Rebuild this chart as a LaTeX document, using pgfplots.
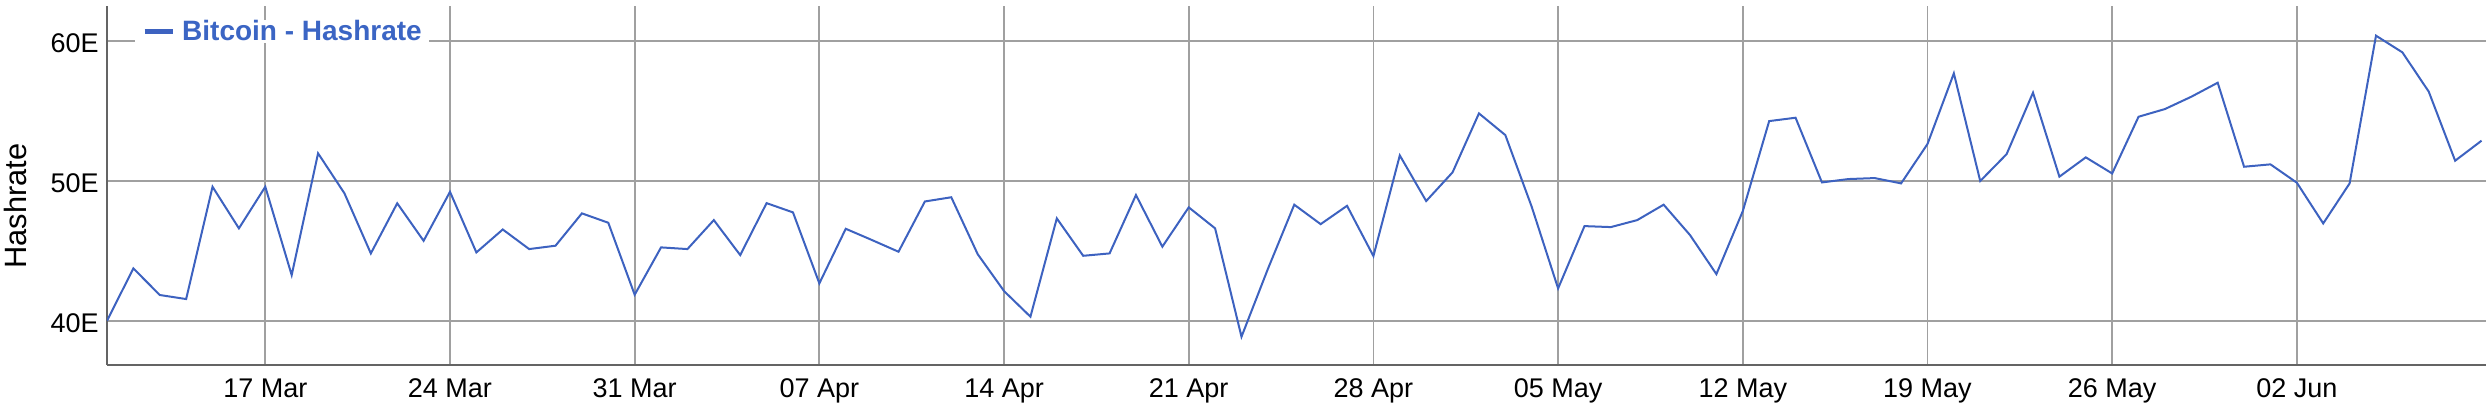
\documentclass[border=0pt]{standalone}
\usepackage{fontspec}
\setmainfont{Liberation Sans}
\usepackage{pgfplots}
\usepackage{pgfplotstable}
\pgfplotsset{compat=1.18}
\usetikzlibrary{calc}

\definecolor{lineblue}{RGB}{61,98,192}
\definecolor{legblue}{RGB}{59,101,196}
\definecolor{gridgray}{RGB}{160,160,160}
\definecolor{axisgray}{RGB}{100,100,100}

% day 0 = 11 Mar, one value per day
\pgfplotstableread{
day hash
0 40.00
1 43.74
2 41.84
3 41.55
4 49.57
5 46.60
6 49.57
7 43.26
8 51.96
9 49.10
10 44.81
11 48.39
12 45.71
13 49.21
14 44.88
15 46.52
16 45.12
17 45.36
18 47.67
19 47.00
20 41.86
21 45.24
22 45.12
23 47.19
24 44.69
25 48.40
26 47.74
27 42.67
28 46.57
29 45.76
30 44.93
31 48.52
32 48.82
33 44.76
34 42.12
35 40.29
36 47.31
37 44.64
38 44.81
39 48.98
40 45.29
41 48.10
42 46.60
43 38.86
44 43.70
45 48.29
46 46.90
47 48.21
48 44.62
49 51.81
50 48.55
51 50.60
52 54.81
53 53.26
54 48.14
55 42.31
56 46.76
57 46.69
58 47.19
59 48.29
60 46.12
61 43.33
62 47.83
63 54.26
64 54.50
65 49.88
66 50.12
67 50.19
68 49.81
69 52.62
70 57.67
71 49.98
72 51.90
73 56.29
74 50.29
75 51.67
76 50.52
77 54.57
78 55.12
79 56.00
80 57.00
81 51.00
82 51.17
83 49.86
84 46.95
85 49.81
86 60.36
87 59.17
88 56.36
89 51.43
90 52.86
}\hashdata

\begin{document}
\begin{tikzpicture}
\begin{axis}[
  name=ax,
  scale only axis,
  width=1189.5pt, height=179.5pt,
  xmin=0, xmax=90.17, ymin=36.84, ymax=62.48,
  axis x line*=bottom, axis y line*=left,
  axis line style={axisgray, line width=1pt, -},
  xtick={6,13,...,83},
  xticklabels={17 Mar,24 Mar,31 Mar,07 Apr,14 Apr,21 Apr,28 Apr,05 May,12 May,19 May,26 May,02 Jun},
  ytick={40,50,60}, yticklabels={40E,50E,60E},
  major tick length=0pt,
  xmajorgrids, ymajorgrids,
  major grid style={gridgray, line width=0.9pt},
  tick label style={font=\fontsize{13.5}{16}\selectfont, text=black},
  xticklabel style={anchor=base, inner sep=0pt, yshift=-16.2pt},
  yticklabel style={anchor=east, inner sep=0pt, xshift=-4pt, yshift=-1.3pt},
  ylabel={Hashrate},
  ylabel style={at={(axis description cs:-0.03867,0.4429)}, anchor=center, font=\fontsize{15.4}{18}\selectfont},
  legend style={at={(axis description cs:0.01177,0.9284)}, anchor=west,
    draw=none, fill=white, inner xsep=3.35pt, inner ysep=0pt, nodes={inner sep=0pt},
    text=legblue, font=\bfseries\fontsize{14}{16}\selectfont},
  legend cell align=left,
  legend image code/.code={\draw[line width=2.5pt] (0pt,0pt) -- (14.15pt,0pt); \path (18.3pt,0pt);},
]
\addplot[lineblue, line width=1pt] table[x=day, y=hash] {\hashdata};
\addlegendentry{Bitcoin - Hashrate}
\end{axis}
\pgfresetboundingbox
\path ($(ax.south west)+(-53.5pt,-20.5pt)$) rectangle ($(ax.north east)+(0pt,3pt)$);
\end{tikzpicture}
\end{document}
